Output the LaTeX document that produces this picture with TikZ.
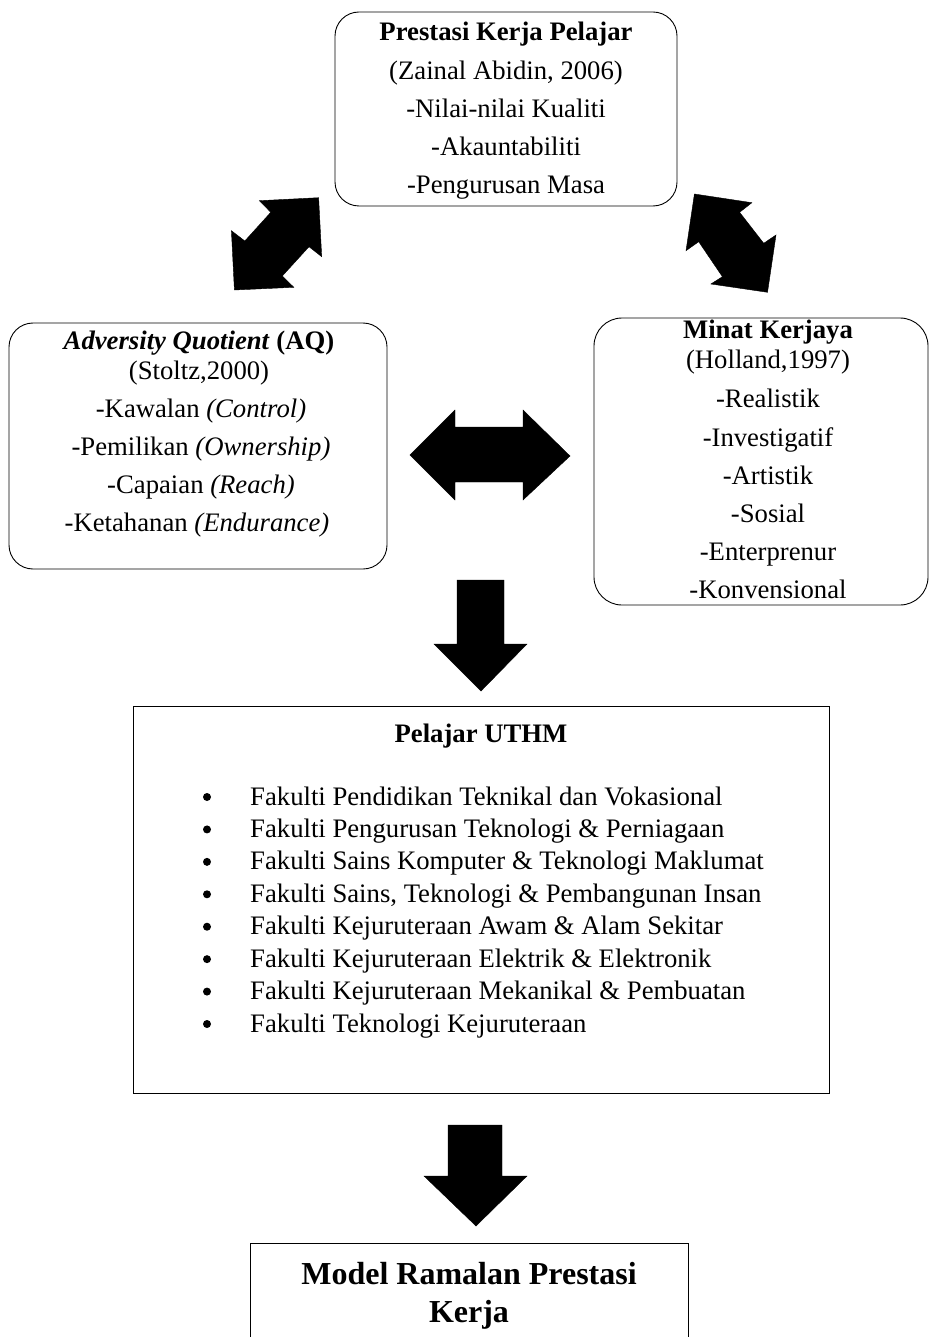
\documentclass[tikz,border=0pt]{standalone}
\usepackage{fontspec}
\setmainfont{Liberation Serif}
\begin{document}
\begin{tikzpicture}[x=1pt,y=-1pt,
  box/.style={draw, line width=0.9pt, anchor=north west, inner sep=0pt, outer sep=0pt},
  rbox/.style={box, rounded corners=24pt},
  t/.style={font=\fontsize{26.7}{32}\selectfont, anchor=base, inner sep=0pt},
  tl/.style={t, anchor=base west},
  tbig/.style={font=\fontsize{32}{38}\selectfont\bfseries, anchor=base, inner sep=0pt},
  dot/.style={circle, fill=black, minimum size=8pt, inner sep=0pt},
  blk/.style={fill=black, draw=black, line width=0.4pt, line join=miter}]
\useasboundingbox (0,0) rectangle (930,1337);
\clip (0,0) rectangle (930,1337);
% ---- boxes
\node[rbox, minimum width=342pt, minimum height=194pt] (top) at (335,12) {};
\node[rbox, minimum width=378pt, minimum height=246pt] (aq) at (9,323) {};
\node[rbox, rounded corners=28pt, minimum width=334pt, minimum height=287pt] (minat) at (594,318) {};
\node[box, minimum width=696pt, minimum height=387pt] (uthm) at (133,706) {};
\node[box, minimum width=438pt, minimum height=140pt] (model) at (250,1243) {};
% ---- top box text
\node[t] (p1) at (506,41) {\textbf{Prestasi Kerja Pelajar}};
\node[t] (p2) at (506,80) {(Zainal Abidin, 2006)};
\node[t] (p3) at (506,118) {-Nilai-nilai Kualiti};
\node[t] (p4) at (506,156) {-Akauntabiliti};
\node[t] (p5) at (506,194) {-Pengurusan Masa};
% ---- AQ box text
\node[t] (a1) at (199,349) {\textbf{\textit{Adversity Quotient}} \textbf{(AQ)}};
\node[t] (a2) at (199,379) {(Stoltz,2000)};
\node[t] (a3) at (201,417) {-Kawalan \textit{(Control)}};
\node[t] (a4) at (201,455) {-Pemilikan \textit{(Ownership)}};
\node[t] (a5) at (201,493) {-Capaian \textit{(Reach)}};
\node[t] (a6) at (197,531) {-Ketahanan \textit{(Endurance)}};
% ---- Minat box text
\node[t] (m1) at (768,338) {\textbf{Minat Kerjaya}};
\node[t] (m2) at (768,368) {(Holland,1997)};
\node[t] (m3) at (768,407) {-Realistik};
\node[t] (m4) at (768,446) {-Investigatif};
\node[t] (m5) at (768,484) {-Artistik};
\node[t] (m6) at (768,522) {-Sosial};
\node[t] (m7) at (768,560) {-Enterprenur};
\node[t] (m8) at (768,598) {-Konvensional};
% ---- UTHM box text
\node[t] (u0) at (481,742) {\textbf{Pelajar UTHM}};
\foreach \i/\s in {0/Fakulti Pendidikan Teknikal dan Vokasional,
                   1/Fakulti Pengurusan Teknologi \& Perniagaan,
                   2/Fakulti Sains Komputer \& Teknologi Maklumat,
                   3/{Fakulti Sains, Teknologi \& Pembangunan Insan},
                   4/Fakulti Kejuruteraan Awam \& Alam Sekitar,
                   5/Fakulti Kejuruteraan Elektrik \& Elektronik,
                   6/Fakulti Kejuruteraan Mekanikal \& Pembuatan,
                   7/Fakulti Teknologi Kejuruteraan}{
  \node[dot] (b\i) at (207,797+32.43*\i) {};
  \node[tl] (u\i) at (250,805+32.43*\i) {\s};
}
% ---- Model box text
\node[tbig] (r1) at (469,1284) {Model Ramalan Prestasi};
\node[tbig] (r2) at (469,1322) {Kerja};
% ---- block arrows
% left diagonal (AQ <-> Prestasi)
\fill[blk] (318.6,197.7) -- (321.7,256.7) -- (309,246.7) -- (282.3,276) -- (293.8,287.3)
  -- (234.4,290) -- (231.4,230.7) -- (244.8,241) -- (270.8,212.3) -- (259.3,200.7) -- cycle;
% right diagonal (Prestasi <-> Minat)
\fill[blk] (694.4,194) -- (751.9,202.7) -- (739.6,212.3) -- (763.7,243.3) -- (776,235)
  -- (767.5,292.3) -- (710.9,284) -- (722.4,276.7) -- (698.7,241.7) -- (686,250.7) -- cycle;
% horizontal (AQ <-> Minat)
\fill[blk] (410,455) -- (455,410) -- (455,427) -- (523,427) -- (523,410) -- (570,456)
  -- (523,500) -- (523,482) -- (455,482) -- (455,500) -- cycle;
% down arrow 1
\fill[blk] (457,580) -- (504,580) -- (504,644) -- (527,644) -- (481,691) -- (434,644)
  -- (457,644) -- cycle;
% down arrow 2
\fill[blk] (448,1125) -- (502,1125) -- (502,1176) -- (527,1176) -- (476,1226) -- (424,1176)
  -- (448,1176) -- cycle;
\end{tikzpicture}
\end{document}
